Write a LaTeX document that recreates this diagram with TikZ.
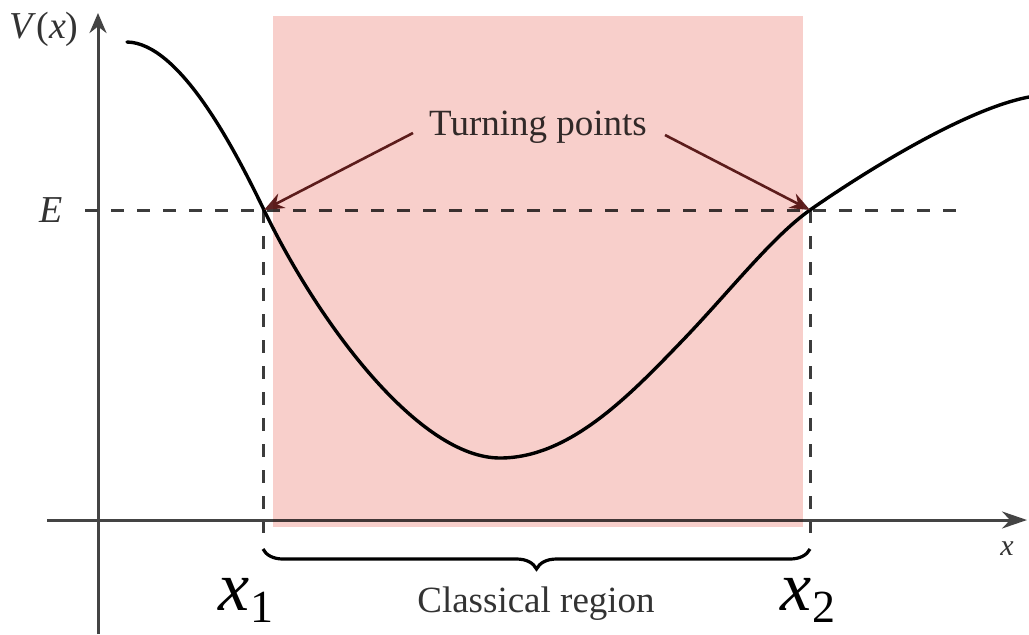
\documentclass[tikz,border=0pt]{standalone}
\usepackage{fontspec}
\setmainfont{Liberation Serif}
\usetikzlibrary{arrows.meta,decorations.pathreplacing}
\definecolor{pinkc}{HTML}{F8CFCB}
\definecolor{axisc}{HTML}{444444}
\definecolor{dashc}{HTML}{3C3C3C}
\definecolor{arrc}{RGB}{95,35,35}
\definecolor{txtc}{HTML}{333333}
\begin{document}
\begin{tikzpicture}[x=0.5pt,y=-0.5pt,
  axisline/.style={draw=axisc,line width=1.5pt},
  dashline/.style={draw=dashc,line width=1.5pt,dash pattern=on 6.5pt off 6.5pt},
  curveline/.style={draw=black,line width=1.7pt,line cap=round},
  tparrow/.style={draw=arrc,line width=1.3pt,-{Stealth[length=10pt,width=8pt]}},
  lbl/.style={text=txtc,inner sep=0pt,anchor=base},
]
\useasboundingbox (0,0) rectangle (1029,634);
\fill[white] (0,0) rectangle (1029,634);

% axes
\coordinate (xs) at (47,520);
\coordinate (xe) at (1027,520);
\coordinate (ys) at (98,634);
\coordinate (ye) at (98,13);
\draw[axisline,-{Stealth[length=12.5pt,width=8.5pt]}] (xs) -- (xe);
\draw[axisline,-{Stealth[length=10pt,width=8.5pt]}] (ys) -- (ye);

% turning points
\coordinate (t1) at (264,210);
\coordinate (t2) at (810,210);
\coordinate (b1) at (263,533);
\coordinate (b2) at (810,533);
\coordinate (e0) at (85,210);
\coordinate (e1) at (960,210);

\draw[dashline] (e0) -- (e1);
\draw[dashline] (263,210) -- (b1);
\draw[dashline] (t2) -- (b2);

% potential curve
\coordinate (p0) at (127,42);
\coordinate (pm) at (500,458);
\coordinate (pq) at (683,340);
\coordinate (pe) at (1029,97);
\draw[curveline] (p0) .. controls (180,43) and (235,150) .. (t1)
  .. controls (320,326) and (420,458) .. (pm)
  .. controls (570,458) and (630,395) .. (pq)
  .. controls (730,291) and (772,237) .. (t2)
  .. controls (850,182) and (960,110) .. (pe);

% labels
\node[lbl,font=\fontsize{19}{20}\selectfont] (Vx) at (44,38) {\textit{V}(\textit{x})};
\node[lbl,font=\fontsize{19}{20}\selectfont] (E) at (51,222) {\textit{E}};
\node[lbl,font=\fontsize{15}{16}\selectfont] (xl) at (1007,555) {\textit{x}};

\node[lbl,font=\fontsize{18.5}{20}\selectfont] (tp) at (538,135) {Turning points};
\coordinate (a1) at (413,133);
\coordinate (a2) at (665,135);
\draw[tparrow] (a1) -- (t1);
\draw[tparrow] (a2) -- (t2);

% brace
\coordinate (c1) at (263,549);
\coordinate (c2) at (810,549);
\draw[draw=black,line width=1.6pt,decorate,decoration={brace,mirror,amplitude=10pt}] (c1) -- (c2);

\node[lbl,font=\fontsize{18.5}{20}\selectfont] (cr) at (536,612) {Classical region};
\node[lbl,text=black,font=\fontsize{35}{38}\selectfont] (x1) at (246,610) {\textit{x}\raisebox{-6pt}{\fontsize{23}{24}\selectfont 1}};
\node[lbl,text=black,font=\fontsize{35}{38}\selectfont] (x2) at (808,610) {\textit{x}\raisebox{-6pt}{\fontsize{23}{24}\selectfont 2}};

% shaded classical region
\fill[pinkc,blend mode=multiply] (273,16) rectangle (803,527);
\end{tikzpicture}
\end{document}
